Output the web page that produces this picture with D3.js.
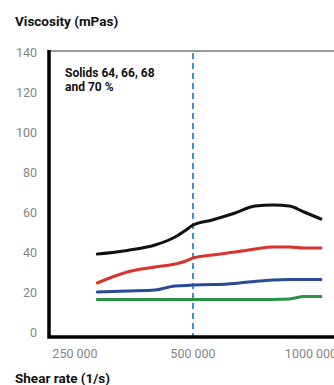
<!DOCTYPE html>
<html>
<head>
<meta charset="utf-8">
<script src="https://cdn.jsdelivr.net/npm/d3@7"></script>
<style>
    html, body { margin: 0; padding: 0; background: #fff; }
    svg { display: block; font-family: Roboto, "Open Sans", sans-serif; }
    .tick-label { fill: #858585; font-size: 12.5px; }
    .axis-title { fill: #111; font-size: 13.5px; font-weight: 700; }
    .note { fill: #111; font-size: 12px; font-weight: 700; }
</style>
</head>
<body>
<svg id="chart" width="334" height="385"></svg>
<script>
// 数据
const shearRates = [285000, 340000, 400000, 450000, 480000, 500000, 560000, 640000, 720000, 800000, 880000, 960000, 1060000];
const solids70 = [39.5, 41.3, 44, 48, 51.5, 54, 56.5, 60, 63.5, 64, 63.5, 60.5, 57];
const solids68 = [25, 30.5, 33, 34.5, 36, 37.5, 39, 40.5, 42, 43, 43, 42.5, 42.5];
const solids66 = [20.5, 21, 21.5, 23.5, 23.7, 24, 24.2, 24.8, 25.8, 26.5, 26.8, 26.8, 26.8];
const solids64 = [16.8, 16.8, 16.8, 16.8, 16.8, 16.8, 16.8, 16.8, 16.8, 16.8, 17, 18.2, 18.2];
const xTicks = [250000, 500000, 1000000];
const xTickLabels = ["250 000", "500 000", "1000 000"];
const yTicks = [0, 20, 40, 60, 80, 100, 120, 140];
const markerRate = 500000;

const series = [
    { values: solids70, color: "#111111" },
    { values: solids68, color: "#d8332c" },
    { values: solids66, color: "#2a4a98" },
    { values: solids64, color: "#2a9346" }
];

const svg = d3.select("#chart");

// 比例尺 (对数横轴)
const x = d3.scaleLog().domain([250000, 1000000]).range([75, 311]);
const y = d3.scaleLinear().domain([0, 140]).range([333, 53]);

const frameLeft = 49, frameRight = 334, frameTop = 51, frameBottom = 337;

// 标题
svg.append("text").attr("class", "axis-title")
    .attr("x", 15).attr("y", 26)
    .text("Viscosity (mPas)");

svg.append("text").attr("class", "axis-title")
    .attr("x", 15).attr("y", 383)
    .text("Shear rate (1/s)");

// 纵轴刻度标签
svg.append("g").selectAll("text")
    .data(yTicks)
    .enter().append("text")
    .attr("class", "tick-label")
    .attr("x", 37)
    .attr("y", d => y(d))
    .attr("dy", "0.35em")
    .attr("text-anchor", "end")
    .text(d => d);

// 横轴刻度标签
svg.append("g").selectAll("text")
    .data(xTicks)
    .enter().append("text")
    .attr("class", "tick-label")
    .attr("x", d => x(d))
    .attr("y", 354)
    .attr("dy", "0.35em")
    .attr("text-anchor", "middle")
    .text((d, i) => xTickLabels[i]);

// 上边框 (灰色)
svg.append("line")
    .attr("x1", frameLeft).attr("x2", frameRight)
    .attr("y1", frameTop).attr("y2", frameTop)
    .attr("stroke", "#999").attr("stroke-width", 2);

// 虚线标记
svg.append("line")
    .attr("x1", x(markerRate)).attr("x2", x(markerRate))
    .attr("y1", frameTop + 2).attr("y2", frameBottom)
    .attr("stroke", "#3a93cc").attr("stroke-width", 2)
    .attr("stroke-dasharray", "6,4");

// 曲线
const line = d3.line()
    .x((d, i) => x(shearRates[i]))
    .y(d => y(d))
    .curve(d3.curveMonotoneX);

svg.append("g").selectAll("path")
    .data(series)
    .enter().append("path")
    .attr("d", d => line(d.values))
    .attr("fill", "none")
    .attr("stroke", d => d.color)
    .attr("stroke-width", 3)
    .attr("stroke-linecap", "round");

// 左轴与底轴 (黑色粗线)
svg.append("path")
    .attr("d", `M${frameLeft},${frameTop - 1}V${frameBottom}H${frameRight}`)
    .attr("fill", "none")
    .attr("stroke", "#000")
    .attr("stroke-width", 3.5);

// 图例说明
const note = svg.append("text").attr("class", "note").attr("x", 65).attr("y", 77);
note.append("tspan").attr("x", 65).text("Solids 64, 66, 68");
note.append("tspan").attr("x", 65).attr("dy", 14).text("and 70 %");
</script>
</body>
</html>
